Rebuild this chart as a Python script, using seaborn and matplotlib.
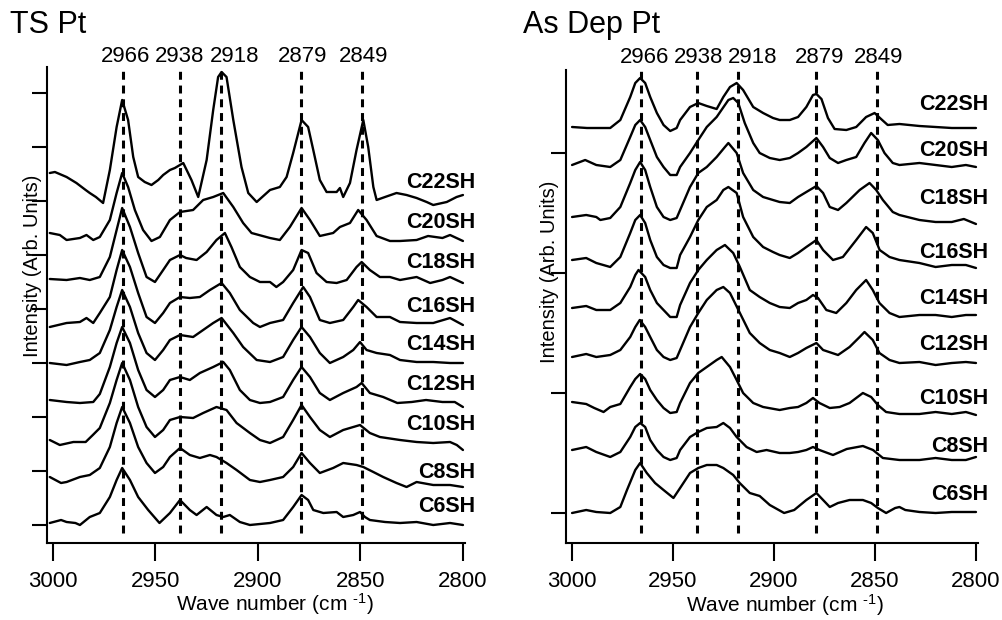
import numpy as np
import pandas as pd
import matplotlib
matplotlib.use("Agg")
import matplotlib.pyplot as plt
import seaborn as sns
from matplotlib.transforms import blended_transform_factory

# ---------------------------------------------------------------------------
# C-H stretching region spectra of alkanethiol monolayers (CnSH) on Pt.
# Each trace: (wave number, intensity) pairs, intensity relative to the
# trace's own baseline in arbitrary units.
# ---------------------------------------------------------------------------
chains = ["C22SH", "C20SH", "C18SH", "C16SH", "C14SH", "C12SH", "C10SH", "C8SH", "C6SH"]
peaks = [2966, 2938, 2918, 2879, 2849]
xticks = [3000, 2950, 2900, 2850, 2800]

# --- template-stripped (TS) Pt ---
ts_c22 = [(3001.5, 0), (2999, 1), (2993.3, -4), (2988.5, -10), (2984, -17), (2982, -20), (2979, -24),
          (2975.5, -30), (2972.2, 3), (2968.9, 46), (2966.2, 73), (2963.3, 53), (2960.8, 16), (2958.4, -4),
          (2955.2, -9), (2951.9, -12), (2948.6, -7), (2946.2, -2), (2942.9, 3), (2940.5, 5), (2936.4, 10),
          (2932.4, -7), (2929.1, -24), (2925, 13), (2921.8, 63), (2919.4, 96), (2917.7, 101), (2915.3, 96),
          (2912, 53), (2908, 6), (2904.7, -20), (2900.6, -29), (2894.1, -17), (2889.3, -14), (2886, -4),
          (2882.8, 20), (2878.7, 53), (2875.5, 46), (2873, 23), (2869.8, -7), (2866.5, -19), (2861.6, -19),
          (2860, -15), (2858.4, -24), (2855.1, -10), (2851.9, 23), (2848.6, 53), (2846.2, 26), (2843.7, -14),
          (2842.1, -27), (2838, -24), (2832.4, -20), (2827.5, -22), (2822.6, -25), (2817.7, -29),
          (2814.5, -32), (2807.9, -29), (2803.1, -24), (2800, -22)]
ts_c20 = [(3001.5, 0), (2996.6, -2), (2993.3, -7), (2986.8, -5), (2983.6, -2), (2980.3, -7), (2977.1, -4),
          (2972.2, 13), (2968.9, 40), (2966.2, 60), (2963.3, 46), (2960, 23), (2956, 3), (2951.9, -8),
          (2947.8, -4), (2942.9, 13), (2938, 21), (2931.6, 23), (2926.7, 33), (2921.8, 36), (2916.9, 40),
          (2912, 26), (2907.2, 10), (2903.1, 0), (2894.1, -5), (2889.3, -7), (2884.4, 6), (2878.7, 25),
          (2874.6, 13), (2869.8, -3), (2863.3, 0), (2860, 6), (2855.1, 10), (2851.1, 23), (2847, 13),
          (2842.1, -3), (2835.6, -8), (2830.7, -8), (2822.6, -7), (2817, -3), (2810, -5), (2806.3, -2),
          (2800, -8)]
ts_c18 = [(3001.5, 0), (2993.3, -1), (2986.8, 1), (2982, -1), (2977.1, 2), (2972.2, 22), (2968.9, 49),
          (2966.2, 71), (2962.4, 52), (2958.4, 26), (2954.3, 2), (2950.2, -3), (2946.2, 9), (2942.9, 19),
          (2938, 24), (2935, 21), (2929.9, 19), (2925, 27), (2920.2, 39), (2916.1, 46), (2912.9, 32),
          (2908.8, 12), (2903.9, 2), (2899, -3), (2894.1, -3), (2891, -8), (2887.7, -3), (2882.8, 9),
          (2878.7, 29), (2875.5, 26), (2871.4, 6), (2866.5, -3), (2861.6, -4), (2856.7, -1), (2851.9, 12),
          (2849.4, 17), (2845.4, 9), (2840.5, 2), (2835.6, 2), (2830.7, -1), (2822.6, 2), (2816, -4),
          (2810, -1), (2806.3, 2), (2800, -4)]
ts_c16 = [(3001.5, 0), (2993.3, 4), (2986.8, 5), (2983.6, 9), (2980.3, 4), (2977.1, 14), (2972.2, 30),
          (2968.9, 57), (2966.2, 77), (2962.4, 60), (2958.4, 34), (2954.3, 10), (2950.2, 4), (2946.2, 14),
          (2942.9, 24), (2938, 30), (2933.2, 29), (2928.3, 30), (2923.4, 37), (2917.7, 44), (2913.7, 34),
          (2908.8, 17), (2902.3, 4), (2899, 0), (2894.1, 4), (2887.7, 7), (2882.8, 24), (2877.9, 40),
          (2874.6, 30), (2869.8, 7), (2864.9, 4), (2858.4, 7), (2853.5, 20), (2851.1, 27), (2847, 20),
          (2842.1, 10), (2835.6, 10), (2830.7, 5), (2822.6, 4), (2814.5, 4), (2806.3, 9), (2800, 2)]
ts_c14 = [(3001.5, 0), (2993.3, -2), (2986.8, 1), (2982, 3), (2977.1, 10), (2972.2, 33), (2968.9, 56),
          (2966.2, 73), (2962.4, 56), (2958.4, 30), (2954.3, 10), (2950.2, 3), (2946.2, 13), (2942.9, 23),
          (2938, 28), (2931.6, 26), (2926.7, 33), (2921.8, 40), (2917.7, 45), (2912, 30), (2907.2, 16),
          (2900.6, 3), (2894.1, 1), (2887.7, 6), (2882.8, 23), (2878.7, 36), (2874.6, 26), (2869.8, 10),
          (2864.9, 0), (2858.4, 6), (2853.5, 13), (2850.2, 21), (2847, 13), (2842.1, 10), (2835.6, 8),
          (2830.7, 3), (2822.6, 1), (2814.5, 1), (2806.3, 0), (2800, 0)]
ts_c12 = [(3001.5, 0), (2993.3, -2), (2986.8, -3), (2980.3, -2), (2977.1, 6), (2972.2, 33), (2968.9, 57),
          (2966.2, 73), (2962.4, 57), (2958.4, 30), (2954.3, 10), (2950.2, 3), (2946.2, 10), (2942.9, 20),
          (2938, 23), (2933.2, 20), (2928.3, 27), (2921.8, 33), (2916.9, 38), (2913.7, 30), (2908.8, 10),
          (2903.9, 0), (2899, -3), (2894.1, -2), (2887.7, 3), (2882.8, 20), (2878.7, 33), (2874.6, 23),
          (2869.8, 7), (2864.9, 0), (2858.4, 7), (2851.9, 13), (2849.4, 17), (2845.4, 7), (2838.9, 3),
          (2832, -3), (2825, -2), (2818, 0), (2810, -2), (2804, -2), (2800, -7)]
ts_c10 = [(3001.5, 0), (2996.6, -5), (2990, -2), (2984, -2), (2980.5, 5), (2977.1, 12), (2972.2, 37),
          (2968.9, 60), (2966.2, 77), (2962.4, 60), (2958.4, 33), (2954.3, 13), (2950.2, 3), (2946.2, 10),
          (2942.9, 20), (2938, 23), (2931.6, 22), (2926.7, 27), (2920.2, 33), (2915.3, 30), (2910.4, 17),
          (2903.9, 7), (2899, 0), (2894.1, -3), (2887.7, 3), (2882.8, 20), (2878.7, 35), (2874.6, 23),
          (2869.8, 10), (2864.9, 3), (2858.4, 10), (2850.2, 15), (2845.4, 7), (2840.5, 3), (2830.7, 0),
          (2822.6, -2), (2814.5, -3), (2806.3, -2), (2803, -5), (2800, -10)]
ts_c8 = [(3001.5, 0), (2996, -6), (2993.3, -5), (2986.8, 0), (2982, 2), (2977.1, 9), (2972.2, 30),
         (2968.9, 54), (2966.2, 70), (2962.4, 54), (2958.4, 30), (2954.3, 14), (2950.2, 4), (2946.2, 10),
         (2942.9, 20), (2938, 29), (2933.2, 22), (2928.3, 19), (2923.4, 22), (2920.2, 20), (2915.3, 14),
         (2910.4, 7), (2903.9, -3), (2899, -5), (2894.1, -3), (2887.7, 0), (2882.8, 10), (2878.7, 24),
         (2874.6, 14), (2869.8, 4), (2863.3, 9), (2858.4, 14), (2851.9, 12), (2848.6, 10), (2843.7, 5),
         (2838.9, 0), (2832.4, -6), (2827.5, -10), (2822.6, -5), (2814.5, -8), (2806.3, -8), (2800, -10)]
ts_c6 = [(3001.5, 0), (2996, 3), (2993.3, 1), (2989, 0), (2986.8, -2), (2982, 6), (2977.1, 10),
         (2972.2, 26), (2968.9, 43), (2966.2, 55), (2962.4, 43), (2958.4, 26), (2953.5, 13), (2948, 0),
         (2942.9, 10), (2938, 23), (2933.2, 13), (2929.9, 8), (2925, 16), (2920.2, 8), (2916.9, 6),
         (2913.7, 8), (2908.8, 1), (2903.9, -2), (2894.1, 0), (2887.7, 3), (2882.8, 16), (2878.7, 28),
         (2875.5, 23), (2873, 13), (2868.1, 10), (2861.6, 11), (2858.4, 6), (2853.5, 8), (2850.2, 11),
         (2847.8, 6), (2845.4, 3), (2838, 1), (2830.7, 0), (2822.6, 1), (2814.5, -2), (2806.3, 0), (2800, -2)]
ts_offsets = [352, 292, 246, 198, 162, 125, 85, 48, 2]

# --- as-deposited Pt ---
ad_c22 = [(3000, 0), (2992.6, -1), (2986, -1), (2981.1, -1), (2976.1, 7), (2971.2, 30), (2968.7, 44),
          (2966.3, 49), (2963.8, 44), (2961.3, 30), (2958, 14), (2954.7, 2), (2951.4, -4), (2948.2, -1),
          (2946.5, 7), (2941.6, 20), (2937.5, 24), (2933.3, 21), (2928.4, 18), (2925.1, 30), (2921.8, 40),
          (2918.5, 44), (2915.3, 37), (2910.3, 20), (2905.4, 14), (2900.5, 9), (2897.2, 7), (2892.2, 7),
          (2888.1, 10), (2884, 20), (2880.7, 32), (2879, 33), (2876.5, 28), (2873.3, 9), (2870, -2),
          (2864.2, -3), (2859.3, 0), (2854.4, 10), (2850.2, 14), (2847, 8), (2843.7, 2), (2837.9, 3),
          (2828, 1), (2820, 0), (2812, -1), (2803, -1), (2800, -1)]
ad_c20 = [(3000, 0), (2993.5, 5), (2988, 0), (2981.1, -2), (2976.1, 5), (2971.2, 28), (2968.7, 40),
          (2966.3, 45), (2963.8, 38), (2961.3, 25), (2958, 8), (2954.7, -2), (2951.4, -10), (2948.2, -10),
          (2946.5, -2), (2941.6, 12), (2937.5, 25), (2933.3, 38), (2928.4, 48), (2922.6, 65), (2920.2, 67),
          (2917.7, 62), (2914.5, 42), (2910.3, 22), (2907.1, 12), (2902.1, 7), (2897.2, 5), (2892.2, 7),
          (2888.1, 12), (2884, 18), (2879, 27), (2875.7, 18), (2872.4, 7), (2868.3, 2), (2864.2, 5),
          (2859.3, 8), (2855.2, 22), (2851.9, 32), (2848.6, 25), (2845.3, 12), (2841.2, 2), (2837.9, 0),
          (2828, 2), (2820, 0), (2812, -2), (2805, 0), (2800, -2)]
ad_c18 = [(3000, 0), (2993, 2), (2988, 0), (2986, -3), (2981.1, -1), (2976.1, 10), (2971.2, 34),
          (2968.7, 47), (2966.3, 55), (2963.8, 47), (2961.3, 30), (2958, 10), (2954.7, 0), (2951.4, -3),
          (2948.2, -1), (2946.5, 7), (2941.6, 30), (2937.5, 44), (2933.3, 50), (2928.4, 60), (2924.3, 70),
          (2922.6, 74), (2918.5, 64), (2915.3, 44), (2910.3, 27), (2905.4, 20), (2900.5, 17), (2897.2, 15),
          (2892.2, 14), (2888.1, 20), (2884, 25), (2879, 31), (2875.7, 24), (2872.4, 10), (2868.3, 7),
          (2864.2, 14), (2857.6, 27), (2852.7, 34), (2849.4, 27), (2846.1, 17), (2841.2, 5), (2837.9, 2),
          (2828, -3), (2820, -5), (2812, -5), (2806, -2), (2800, -7)]
ad_c16 = [(3000, 0), (2993, 2), (2988, -3), (2981.1, -7), (2976.1, 3), (2971.2, 27), (2968.7, 40),
          (2966.3, 45), (2963.8, 37), (2961.3, 20), (2958, 3), (2954.7, -5), (2951.4, -8), (2948.2, -8),
          (2946.5, 5), (2941.6, 23), (2937.5, 40), (2933.3, 53), (2928.4, 60), (2925.1, 70), (2922.6, 73),
          (2918.5, 67), (2915.3, 43), (2910.3, 23), (2905.4, 13), (2900.5, 8), (2897.2, 5), (2892.2, 2),
          (2888.1, 7), (2884, 13), (2879, 20), (2875.7, 10), (2870.8, 0), (2865.9, 3), (2859.3, 20),
          (2854.4, 33), (2851.1, 27), (2847.7, 10), (2842.8, 3), (2837.9, 0), (2828, -3), (2820, -7),
          (2812, -5), (2805, -5), (2800, -8)]
ad_c14 = [(3000, 0), (2993, 2), (2988, -2), (2981.1, -2), (2976.1, 5), (2971.2, 21), (2968.7, 33),
          (2967.1, 38), (2963.8, 31), (2961.3, 18), (2958, 5), (2954.7, -2), (2951.4, -9), (2948.2, -9),
          (2946.5, 3), (2941.6, 25), (2937.5, 38), (2933.3, 48), (2928.4, 58), (2924.3, 63), (2920.2, 55),
          (2916.9, 41), (2912, 18), (2907.1, 11), (2902.1, 5), (2897.2, 1), (2892.2, 0), (2888.1, 5),
          (2884, 8), (2880.7, 13), (2878.2, 10), (2874.1, -2), (2869.2, -5), (2864.2, 5), (2859.3, 18),
          (2854.4, 28), (2851.1, 18), (2847.8, 5), (2842.8, -5), (2837.9, -9), (2828, -7), (2820, -7),
          (2812, -9), (2805, -7), (2800, -7)]
ad_c12 = [(3000, 0), (2993, 3), (2988, 0), (2981.1, 2), (2976.1, 7), (2971.2, 20), (2968.7, 30),
          (2966.5, 37), (2963.8, 30), (2961.3, 20), (2958, 7), (2954.7, 0), (2951.4, -3), (2948.2, -1),
          (2946.5, 7), (2941.6, 30), (2937.5, 44), (2933.3, 57), (2928.4, 67), (2925.1, 70), (2921.8, 64),
          (2916.9, 44), (2912, 24), (2907.1, 14), (2902.1, 7), (2897.2, 4), (2892.2, 0), (2888.1, 4),
          (2884, 9), (2879, 14), (2875.7, 7), (2868.3, 2), (2862.6, 10), (2857.6, 20), (2855.2, 25),
          (2851.1, 17), (2847.8, 4), (2842.8, -3), (2837.9, -6), (2828, -5), (2820, -8), (2812, -6),
          (2805, -5), (2800, -6)]
ad_c10 = [(3000, 0), (2993, -2), (2989, -6), (2984.4, -10), (2981.1, -5), (2976.1, -2), (2971.2, 15),
          (2968.7, 23), (2966.3, 28), (2963.8, 23), (2961.3, 12), (2958, 2), (2954.7, -6), (2951.4, -11),
          (2948.2, -10), (2946.5, -1), (2941.6, 19), (2937.5, 29), (2933.3, 35), (2928.4, 42), (2925.9, 45),
          (2921.8, 35), (2918.5, 22), (2915.3, 9), (2910.3, -1), (2905.4, -5), (2897.2, -8), (2892.2, -6),
          (2888.1, -5), (2884, -1), (2880.7, 4), (2877.5, -1), (2872.4, -6), (2867.5, -5), (2862.6, -1),
          (2856, 9), (2851.9, 5), (2848.6, -3), (2844.5, -10), (2837.9, -12), (2828, -12), (2820, -10),
          (2812, -12), (2805, -10), (2800, -13)]
ad_c8 = [(3000, 0), (2993, 3), (2988, -2), (2981.1, -7), (2976.1, -2), (2971.2, 13), (2968.7, 23),
         (2966.3, 27), (2963.8, 23), (2961.3, 10), (2958, 0), (2954.7, -7), (2951.4, -10), (2948.2, -8),
         (2946.5, 0), (2941.6, 13), (2937.5, 18), (2933.3, 22), (2928.4, 23), (2925.1, 27), (2921.8, 22),
         (2918.5, 13), (2913.6, 3), (2908.6, -2), (2903.7, 0), (2897.2, -3), (2892.2, -3), (2888.1, -2),
         (2884, 0), (2880.7, 3), (2877.5, 0), (2870.8, -5), (2864, 1), (2856, 4), (2851, 0),
         (2846.1, -8), (2837.9, -10), (2828, -10), (2820, -8), (2812, -10), (2805, -10), (2800, -7)]
ad_c6 = [(3000, 0), (2993, 3), (2988, 1), (2981.1, 0), (2976.1, 6), (2972.8, 23), (2968.7, 43),
         (2966.3, 50), (2963, 40), (2958.9, 30), (2954.7, 23), (2949.8, 15), (2946.5, 25), (2941.6, 40),
         (2937.5, 45), (2933.3, 48), (2928.4, 48), (2925.1, 45), (2920.2, 38), (2917, 30), (2912, 20),
         (2907.1, 17), (2902.1, 8), (2895, 0), (2890, 3), (2884, 13), (2879, 20), (2875.7, 13),
         (2872.4, 6), (2868.3, 10), (2862.6, 13), (2856, 13), (2851.9, 10), (2848.6, 5), (2844.5, 0),
         (2840, 5), (2837.9, 6), (2835, 3), (2828, 1), (2820, 0), (2812, 1), (2805, 1), (2800, 1)]
ad_offsets = [386, 348, 296, 253, 205, 156, 111, 63, 0]

ts_traces = [ts_c22, ts_c20, ts_c18, ts_c16, ts_c14, ts_c12, ts_c10, ts_c8, ts_c6]
ad_traces = [ad_c22, ad_c20, ad_c18, ad_c16, ad_c14, ad_c12, ad_c10, ad_c8, ad_c6]

# Layout of text and axes (data units of each panel)
ts_label_y = [343, 303, 262, 218, 180, 140, 100, 53, 18]
ad_label_y = [408, 363, 315, 261, 215, 168, 115, 66, 18]
ts_peak_dx = [2, 0, 10, 1, 1]   # peak-label nudges, points
ad_peak_dx = [3, 1, 11, 2, 1]


def stacked_frame(traces, offsets):
    frames = []
    for name, pts, off in zip(chains, traces, offsets):
        wn, val = zip(*pts)
        frames.append(pd.DataFrame({"wn": wn, "signal": np.asarray(val, float) + off, "chain": name}))
    return pd.concat(frames, ignore_index=True)


sns.set_style("ticks")
plt.rcParams["font.family"] = ["Liberation Sans", "DejaVu Sans"]
plt.rcParams["mathtext.fontset"] = "custom"
plt.rcParams["mathtext.rm"] = "Liberation Sans"
plt.rcParams["mathtext.it"] = "Liberation Sans:italic"
plt.rcParams["axes.linewidth"] = 1.5
for key in ["text.color", "axes.labelcolor", "axes.edgecolor", "xtick.color", "ytick.color"]:
    plt.rcParams[key] = "black"

fig = plt.figure(figsize=(10.02, 6.2), dpi=100)
fig.patch.set_facecolor("white")
W, H = 1002.0, 620.0
ax_ts = fig.add_axes([46.7 / W, 1 - 543 / H, 418.3 / W, 476 / H])
ax_ad = fig.add_axes([566 / W, 1 - 543 / H, 412 / W, 473 / H])

panels = [
    (ax_ts, ts_traces, ts_offsets, ts_label_y, ts_peak_dx, (-18, 458), np.arange(0, 433, 54),
     "TS Pt", 10, (-0.033, 0.582), (0.545, -0.102), 3.8),
    (ax_ad, ad_traces, ad_offsets, ad_label_y, ad_peak_dx, (-30, 443), np.arange(0, 361, 120),
     "As Dep Pt", 523, (-0.039, 0.573), (0.53, -0.103), 5.0),
]

for (ax, traces, offsets, label_y, peak_dx, ylim, yticks, title, title_x,
     ylab_xy, xlab_xy, peak_pad) in panels:
    df = stacked_frame(traces, offsets)
    sns.lineplot(data=df, x="wn", y="signal", units="chain", estimator=None, sort=False,
                 color="black", linewidth=1.7, ax=ax)

    ax.set_xlim(3003, 2799)
    ax.set_ylim(*ylim)
    ax.set_xticks(xticks)
    ax.set_yticks(yticks)
    ax.tick_params(axis="x", direction="out", length=13, width=1.5, labelsize=16, pad=7)
    ax.tick_params(axis="y", direction="out", length=11, width=1.5, labelleft=False)
    sns.despine(ax=ax)

    # band assignments
    for p, dx in zip(peaks, peak_dx):
        ax.axvline(p, ymin=0.021, ymax=1.0, color="black", linewidth=2.2,
                   linestyle=(0, (2.6, 1.9)), clip_on=False)
        ax.annotate(str(p), xy=(p, 1.0), xycoords=("data", "axes fraction"),
                    xytext=(dx, peak_pad), textcoords="offset points",
                    ha="center", va="baseline", fontsize=16)

    # chain-length labels
    tr = blended_transform_factory(ax.transAxes, ax.transData)
    for name, yl in zip(chains, label_y):
        ax.text(1.024, yl, name, transform=tr, ha="right", va="center",
                fontsize=15.5, fontweight="bold", clip_on=False)

    ax.set_xlabel(r"Wave number (cm $^{\text{-1}}$)", fontsize=15)
    ax.xaxis.set_label_coords(*xlab_xy)
    ax.set_ylabel("Intensity (Arb. Units)", fontsize=14.5, va="center")
    ax.yaxis.set_label_coords(*ylab_xy)

    fig.text(title_x / W, 1 - 33.3 / H, title, fontsize=22, ha="left", va="baseline")

fig.savefig("out.png", dpi=100, facecolor="white")
